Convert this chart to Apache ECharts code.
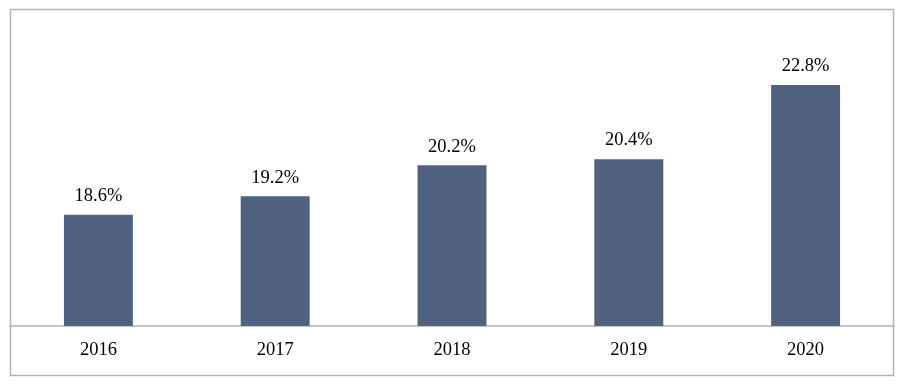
<!DOCTYPE html>
<html><head><meta charset="utf-8">
<style>html,body{margin:0;padding:0;background:#fff}#c{width:903px;height:385px}</style>
<script src="https://cdn.jsdelivr.net/npm/echarts@6/dist/echarts.min.js"></script>
</head><body><div id="c"></div>
<script>
const categories = ['2016','2017','2018','2019','2020'];
const values = [18.6, 19.2, 20.2, 20.4, 22.8];
const chart = echarts.init(document.getElementById('c'));
chart.setOption({
  animation: false,
  backgroundColor: '#fff',
  graphic: [{
    type: 'rect', shape: {x: 10.5, y: 9.5, width: 883, height: 366},
    style: {fill: 'none', stroke: '#b3b3b3', lineWidth: 1.5}, z: 100
  }],
  grid: {left: 10, right: 9, top: 17, bottom: 59},
  xAxis: {
    type: 'category', data: categories,
    axisLine: {lineStyle: {color: '#b3b3b3', width: 1.5}},
    axisTick: {show: false},
    axisLabel: {color: '#000', fontFamily: 'Liberation Serif', fontSize: 18.5, margin: 15}
  },
  yAxis: {type: 'value', min: 15, max: 25, show: false, splitLine: {show: false}},
  series: [{
    type: 'bar', data: values, barWidth: '39%',
    itemStyle: {color: '#50627f'},
    label: {show: true, position: 'top', distance: 9, formatter: p => p.value.toFixed(1) + '%',
      color: '#000', fontFamily: 'Liberation Serif', fontSize: 18.5}
  }]
});
</script></body></html>
